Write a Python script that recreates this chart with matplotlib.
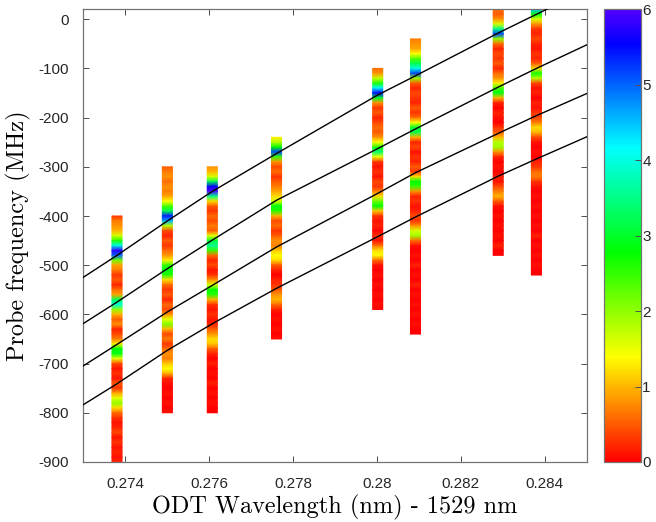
import numpy as np
import matplotlib
matplotlib.use("Agg")
import matplotlib.pyplot as plt
from matplotlib.colors import ListedColormap, hsv_to_rgb

plt.rcParams['font.family'] = ['Liberation Sans', 'DejaVu Sans']
plt.rcParams['axes.unicode_minus'] = False

# ODT wavelength of each scan (nm - 1529 nm)
col_x = [0.27381, 0.27501, 0.27608, 0.27761, 0.28002, 0.28092, 0.28289, 0.28380]
# top probe frequency of each scan (MHz), 10 MHz steps downwards
col_top = [-400, -300, -300, -240, -100, -40, 20, 20]

# signal, top -> bottom
col1 = [0.3, 0.7, 0.8, 1.0, 1.6, 2.6, 4.0, 5.8, 5.0, 2.2, 0.9, 0.7, 0.3, 0.5, 0.2, 0.6, 0.9,
        3.2, 4.0, 2.0, 1.0, 0.5, 0.8, 0.2, 0.4, 0.7, 1.3, 2.8, 2.9, 1.5, 0.4, 0.1, 0.3, 0.1,
        0.5, 0.3, 0.9, 1.5, 2.0, 1.2, 0.6, 0.3, 0.1, 0.2, 0.4, 0.1, 0.3, 0.1, 0.2, 0.1, 0.2]
col2 = [0.5, 0.7, 0.8, 0.6, 0.8, 0.7, 0.9, 1.4, 2.4, 3.2, 5.4, 4.6, 1.8, 0.4, 0.2, 0.5, 0.3,
        0.6, 0.8, 1.3, 2.5, 2.9, 2.6, 1.2, 0.6, 0.3, 0.5, 0.2, 0.6, 0.4, 0.8, 1.5, 2.1, 1.0,
        0.4, 0.7, 0.3, 0.6, 0.8, 0.7, 1.1, 1.4, 1.0, 0.2, 0.1, 0.0, 0.1, 0.0, 0.1, 0.0, 0.1]
col3 = [0.8, 1.0, 1.6, 3.2, 5.6, 6.0, 3.5, 1.2, 0.5, 0.3, 0.6, 0.4, 0.7, 0.5, 1.5, 3.0, 3.6,
        2.5, 0.6, 0.2, 0.4, 0.1, 0.3, 0.8, 1.6, 2.8, 2.6, 1.0, 0.3, 0.1, 0.3, 0.1, 0.2, 0.5,
        0.8, 1.2, 1.1, 0.5, 0.2, 0.0, 0.2, 0.0, 0.1, 0.0, 0.2, 0.0, 0.1, 0.0, 0.1, 0.0, 0.0]
col4 = [1.3, 1.8, 2.8, 5.2, 2.5, 0.8, 0.4, 0.6, 0.3, 0.5, 0.7, 0.9, 1.2, 1.6, 2.8, 2.6, 1.0,
        0.4, 0.6, 0.3, 0.5, 0.8, 0.7, 1.1, 1.4, 1.2, 0.5, 0.2, 0.0, 0.2, 0.3, 0.5, 0.8, 1.0,
        0.6, 0.2, 0.0, 0.1, 0.0, 0.1, 0.0, 0.1]
col5 = [0.6, 0.8, 1.7, 2.6, 4.2, 5.6, 3.0, 0.8, 0.3, 0.5, 0.2, 0.4, 0.6, 0.5, 0.8, 1.4, 2.6,
        3.4, 1.5, 0.3, 0.1, 0.3, 0.1, 0.4, 0.3, 0.7, 1.2, 2.2, 2.8, 1.1, 0.3, 0.1, 0.2, 0.0,
        0.3, 0.1, 0.6, 1.2, 1.4, 0.6, 0.1, 0.0, 0.1, 0.0, 0.1, 0.0, 0.1, 0.0, 0.1, 0.0]
col6 = [0.7, 0.8, 0.9, 1.4, 2.3, 3.2, 4.0, 5.2, 2.0, 0.5, 0.2, 0.4, 0.3, 0.2, 0.5, 0.3, 0.6,
        1.4, 3.0, 3.2, 1.0, 0.2, 0.4, 0.1, 0.3, 0.2, 0.5, 0.3, 1.2, 2.8, 2.5, 0.8, 0.2, 0.3,
        0.1, 0.2, 0.4, 0.3, 0.8, 1.6, 1.9, 0.6, 0.1, 0.0, 0.1, 0.0, 0.2, 0.0, 0.1, 0.0, 0.2,
        0.0, 0.1, 0.0, 0.1, 0.0, 0.1, 0.0, 0.1, 0.0, 0.0]
col7 = [0.6, 0.5, 0.8, 1.6, 3.5, 5.2, 2.0, 0.6, 0.2, 0.4, 0.3, 0.5, 0.2, 0.6, 0.8, 1.3, 2.4,
        2.9, 1.0, 0.2, 0.0, 0.2, 0.1, 0.0, 0.3, 0.5, 1.0, 1.8, 1.9, 0.8, 0.2, 0.0, 0.1, 0.0,
        0.2, 0.1, 0.4, 0.7, 1.0, 0.5, 0.1, 0.0, 0.1, 0.0, 0.1, 0.0, 0.1, 0.0, 0.2, 0.0, 0.0]
col8 = [4.5, 2.8, 1.6, 0.8, 0.3, 0.2, 0.4, 0.2, 0.1, 0.3, 0.2, 0.5, 1.2, 2.7, 1.8, 0.4, 0.1,
        0.2, 0.0, 0.2, 0.1, 0.3, 0.4, 0.7, 1.2, 1.0, 0.4, 0.1, 0.0, 0.1, 0.0, 0.2, 0.3, 0.6,
        0.7, 0.3, 0.1, 0.0, 0.1, 0.0, 0.1, 0.0, 0.1, 0.0, 0.1, 0.0, 0.2, 0.0, 0.1, 0.0, 0.1,
        0.0, 0.1, 0.0, 0.0]
columns = [col1, col2, col3, col4, col5, col6, col7, col8]

# model resonance curves
line_x = [0.273, 0.27381, 0.27501, 0.27608, 0.27761, 0.28002, 0.28092, 0.28289, 0.28380, 0.285]
line1 = [-525, -480, -410, -350, -273, -154, -115, -28, 10, 60]
line2 = [-619, -575, -507, -449, -368, -263, -223, -138, -100, -52]
line3 = [-705, -661, -595, -541, -463, -354, -312, -232, -196, -151]
line4 = [-784, -741, -673, -619, -547, -442, -402, -319, -284, -239]

xticks = [0.274, 0.276, 0.278, 0.280, 0.282, 0.284]
xticklabels = ['0.274', '0.276', '0.278', '0.28', '0.282', '0.284']
yticks = [0, -100, -200, -300, -400, -500, -600, -700, -800, -900]

# matlab-like hsv map, red -> violet
hues = np.linspace(0, 0.72, 256)
cmap = ListedColormap(hsv_to_rgb(np.column_stack([hues, np.ones(256), np.ones(256)])))

fig = plt.figure(figsize=(6.56, 5.22), dpi=100)
ax = fig.add_axes([0.1265, 0.115, 0.768, 0.867])
cax = fig.add_axes([0.9207, 0.115, 0.0564, 0.867])

w = 0.00024
for xc, top, vals in zip(col_x, col_top, columns):
    f = top - 10 * np.arange(len(vals))
    X, Y = np.meshgrid([xc - w / 2, xc + w / 2], f)
    C = np.column_stack([vals, vals])
    pc = ax.pcolormesh(X, Y, C, shading='gouraud', cmap=cmap, vmin=0, vmax=6)

for ln in [line1, line2, line3, line4]:
    ax.plot(line_x, ln, color='k', lw=1.0, zorder=3)

ax.set_xlim(0.273, 0.285)
ax.set_ylim(-900, 20)
ax.set_xticks(xticks)
ax.set_xticklabels(xticklabels)
ax.set_yticks(yticks)
ax.tick_params(direction='in', top=True, right=True, length=4, width=0.7,
               color='0.3', labelcolor='#262626', labelsize=11)
ax.tick_params(axis='x', pad=11)
ax.tick_params(axis='y', pad=10.5)
for s in ax.spines.values():
    s.set_color('0.45')
    s.set_linewidth(0.9)

ax.set_xlabel('ODT Wavelength (nm) - 1529 nm', family='cmr10', fontsize=17.5)
ax.set_ylabel('Probe frequency (MHz)', family='cmr10', fontsize=17.5)
ax.xaxis.set_label_coords(0.5, -0.072)
ax.yaxis.set_label_coords(-0.103, 0.5)

cb = fig.colorbar(pc, cax=cax)
cb.set_ticks([0, 1, 2, 3, 4, 5, 6])
cb.ax.tick_params(direction='in', length=4, width=0.7, pad=1, color='0.3',
                  labelcolor='#262626', labelsize=11)
cb.outline.set_edgecolor('0.45')
cb.outline.set_linewidth(0.9)

fig.savefig('out.png', dpi=100)
